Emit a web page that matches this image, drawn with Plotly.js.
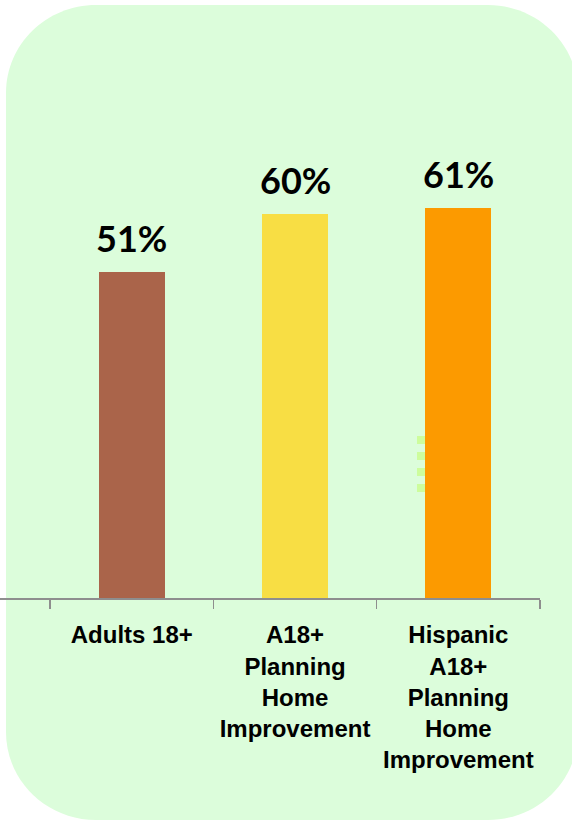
<!DOCTYPE html>
<html>
<head>
<meta charset="utf-8">
<script src="https://cdn.plot.ly/plotly-3.0.1.min.js"></script>
<style>
html,body{margin:0;padding:0;background:#ffffff;}
#chart{width:572px;height:822px;}
</style>
</head>
<body>
<div id="chart"></div>
<script>
// ---- data ----
var categories = ["Adults 18+", "A18+<br>Planning<br>Home<br>Improvement", "Hispanic<br>A18+<br>Planning<br>Home<br>Improvement"];
var values = [51, 60, 61];
var valueLabels = ["51%", "60%", "61%"];
var barColors = ["#aa644a", "#f8de44", "#fc9a00"];

// ---- geometry helpers (decoration only) ----
var W = 572, H = 822;
var M = {l: 0, r: 32, t: 86, b: 224};
var pw = W - M.l - M.r, ph = H - M.t - M.b;
function px(x){ return (x - M.l) / pw; }
function py(y){ return (H - M.b - y) / ph; }
function pt(x, y){ return px(x).toFixed(5) + "," + py(y).toFixed(5); }

function roundRect(L, T, R, B, rx, ry){
  var k = 0.5523;
  return "M" + pt(L+rx, T) +
    " L" + pt(R-rx, T) +
    " C" + pt(R-rx+k*rx, T) + " " + pt(R, T+ry-k*ry) + " " + pt(R, T+ry) +
    " L" + pt(R, B-ry) +
    " C" + pt(R, B-ry+k*ry) + " " + pt(R-rx+k*rx, B) + " " + pt(R-rx, B) +
    " L" + pt(L+rx, B) +
    " C" + pt(L+rx-k*rx, B) + " " + pt(L, B-ry+k*ry) + " " + pt(L, B-ry) +
    " L" + pt(L, T+ry) +
    " C" + pt(L, T+ry-k*ry) + " " + pt(L+rx-k*rx, T) + " " + pt(L+rx, T) + " Z";
}

var trace = {
  type: "bar",
  x: categories,
  y: values,
  width: 0.405,
  marker: {color: barColors},
  hoverinfo: "skip"
};

var annotations = categories.map(function(c, i){
  return {
    x: c, y: values[i], xref: "x", yref: "y",
    text: valueLabels[i], showarrow: false,
    yanchor: "bottom", yshift: 10,
    font: {family: "Lato, 'DejaVu Sans', sans-serif", size: 36, color: "#000000", weight: 700}
  };
});

var layout = {
  width: W, height: H,
  margin: M,
  paper_bgcolor: "#ffffff",
  plot_bgcolor: "rgba(0,0,0,0)",
  showlegend: false,
  bargap: 0,
  xaxis: {
    type: "category",
    range: [-0.5 - 50/163, 2.5],
    showline: true, linecolor: "#8e8e8e", linewidth: 1.5,
    ticks: "outside", tickson: "boundaries", ticklen: 9, tickwidth: 1.5, tickcolor: "#8e8e8e",
    tickangle: 0,
    ticklabelstandoff: 15,
    showgrid: false, zeroline: false,
    tickfont: {family: "'Liberation Sans', Arial, sans-serif", size: 24, color: "#000000", weight: 700},
    fixedrange: true
  },
  yaxis: {
    range: [0, 80], visible: false, showgrid: false, zeroline: false, fixedrange: true
  },
  shapes: [
    {type: "path", xref: "paper", yref: "paper", layer: "below",
     path: roundRect(6, 5, 578, 820, 90, 88),
     fillcolor: "#dcfddb", line: {width: 0}},
    {type: "line", xref: "paper", yref: "paper", layer: "above",
     x0: px(421), x1: px(421), y0: py(436), y1: py(492),
     line: {color: "#cdfd9c", width: 8, dash: "8px,8px"}}
  ],
  annotations: annotations
};

Plotly.newPlot("chart", [trace], layout, {displayModeBar: false, staticPlot: true});
</script>
</body>
</html>
